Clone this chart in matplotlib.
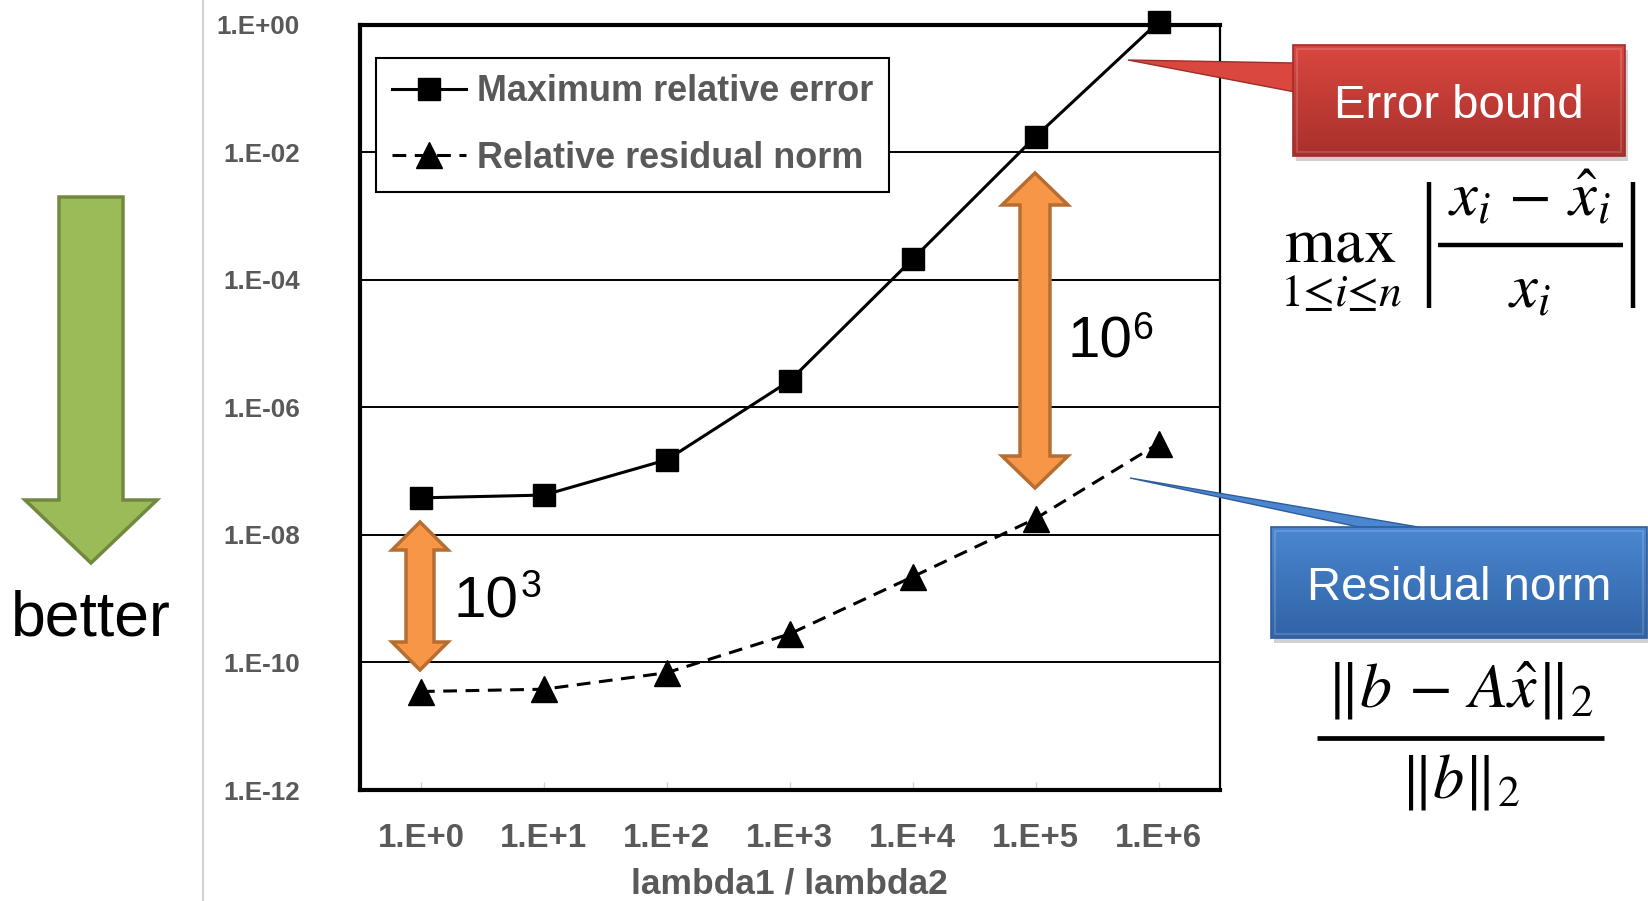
import numpy as np
import matplotlib
matplotlib.use("Agg")
import matplotlib.pyplot as plt
from matplotlib import font_manager
from matplotlib.patches import Polygon, Rectangle

plt.rcParams["font.family"] = ["Liberation Sans", "DejaVu Sans"]

W, H = 1648, 901

ratio_labels = ["1.E+0", "1.E+1", "1.E+2", "1.E+3", "1.E+4", "1.E+5", "1.E+6"]
max_rel_error = [3.8e-8, 4.2e-8, 1.5e-7, 2.6e-6, 2.1e-4, 1.75e-2, 1.1]
rel_residual = [3.5e-11, 3.8e-11, 6.9e-11, 2.8e-10, 2.2e-9, 1.8e-8, 2.7e-7]
y_ticks = [1e0, 1e-2, 1e-4, 1e-6, 1e-8, 1e-10, 1e-12]
y_tick_labels = ["1.E+00", "1.E-02", "1.E-04", "1.E-06", "1.E-08", "1.E-10", "1.E-12"]

GRAY = "#595959"

names = {f.name for f in font_manager.fontManager.ttflist}
if "Liberation Sans Narrow" in names:
    NARROW = ["Liberation Sans Narrow", "DejaVu Sans"]
    k = 1.0
else:
    NARROW = ["Liberation Sans", "DejaVu Sans"]
    k = 0.85

fig = plt.figure(figsize=(W / 100, H / 100), dpi=100)
ax = fig.add_axes([359.5 / W, 1 - 790 / H, (1220 - 359.5) / W, (790 - 24.5) / H])

x = np.arange(len(ratio_labels))
ax.plot(x, max_rel_error, color="black", lw=2.2, marker="s", ms=16.5,
        label="Maximum relative error", clip_on=False, zorder=5)
ax.plot(x, rel_residual, color="black", lw=2.2, ls=(0, (4.5, 2.8)), marker="^", ms=19,
        label="Relative residual norm", clip_on=False, zorder=5)

ax.set_yscale("log")
ax.set_ylim(1e-12, 1e0)
ax.set_xlim(-0.5, len(ratio_labels) - 0.5)
ax.set_yticks(y_ticks)
ax.set_yticklabels(y_tick_labels)
ax.minorticks_off()
ax.set_xticks(x)
ax.set_xticklabels(ratio_labels)
for yv in y_ticks[1:-1]:
    ax.axhline(yv, color="black", lw=1.4, zorder=1)

ax.tick_params(axis="y", length=0, pad=43, labelcolor=GRAY)
ax.tick_params(axis="x", direction="in", length=6, width=1, color="#D0D0D0",
               pad=24, labelcolor=GRAY)
for lab in ax.get_yticklabels():
    lab.set_fontweight("bold")
    lab.set_family(NARROW)
    lab.set_fontsize(22 * k)
for lab in ax.get_xticklabels():
    lab.set_fontweight("bold")
    lab.set_family(NARROW)
    lab.set_fontsize(28 * k)

for side in ["left", "top", "bottom"]:
    ax.spines[side].set_linewidth(3)
ax.spines["right"].set_linewidth(1.6)

ax.set_xlabel("lambda1 / lambda2", fontsize=30 * k, fontweight="bold", color=GRAY,
              family=NARROW, va="center")
ax.xaxis.set_label_coords(0.5, (790 - 884) / (790 - 24.5))

leg = ax.legend(loc="upper left", bbox_to_anchor=(376 / W, 1 - 58 / H),
                bbox_transform=fig.transFigure, borderaxespad=0, fancybox=False,
                framealpha=1, edgecolor="black", handlelength=2.05, handletextpad=0.3,
                labelspacing=0.88, borderpad=0.45,
                prop={"size": 30.5 * k, "weight": "bold", "family": NARROW},
                labelcolor=GRAY)
leg.get_frame().set_linewidth(1.5)

# overlay in pixel coordinates for the slide decorations
ov = fig.add_axes([0, 0, 1, 1], zorder=10)
ov.set_xlim(0, W)
ov.set_ylim(H, 0)
ov.axis("off")
ov.patch.set_alpha(0)

ov.plot([203, 203], [0, H], color="#C8C8C8", lw=1.2)

# green "better" arrow
green = [(59, 197), (123, 197), (123, 500), (157, 500), (91, 563), (25, 500), (59, 500)]
ov.add_patch(Polygon(green, closed=True, fc="#9BBB59", ec="#71893F", lw=2.5))
ov.text(91, 636, "better", fontsize=45, ha="center", va="baseline", color="black")


def double_arrow(cx, y0, y1, sw, hw, hl):
    pts = [(cx, y0), (cx + hw, y0 + hl), (cx + sw, y0 + hl), (cx + sw, y1 - hl),
           (cx + hw, y1 - hl), (cx, y1), (cx - hw, y1 - hl), (cx - sw, y1 - hl),
           (cx - sw, y0 + hl), (cx - hw, y0 + hl)]
    ov.add_patch(Polygon(pts, closed=True, fc="#F79646", ec="#B66D31", lw=2.5, zorder=6))


double_arrow(420, 522, 670, 14, 28, 28)
double_arrow(1035, 173, 488, 15, 33, 32)

ov.text(454, 617, "10", fontsize=42, ha="left", va="baseline")
ov.text(521, 597, "3", fontsize=27, ha="left", va="baseline")
ov.text(1068, 358, "10", fontsize=42, ha="left", va="baseline")
ov.text(1132, 339, "6", fontsize=27, ha="left", va="baseline")


def callout(box, pointer, top_c, bot_c, edge_c, label):
    x0, y0, x1, y1 = box
    ov.add_patch(Rectangle((x0 + 3, y0 + 5), x1 - x0, y1 - y0, fc="#000000", alpha=0.18,
                           ec="none", zorder=7))
    ov.add_patch(Polygon(pointer, closed=True, fc=top_c, ec=edge_c, lw=1, zorder=8))
    grad = np.linspace(0, 1, 64)[:, None, None]
    c0 = np.array(matplotlib.colors.to_rgb(top_c))
    c1 = np.array(matplotlib.colors.to_rgb(bot_c))
    img = c0 * (1 - grad) + c1 * grad
    rect = Rectangle((x0, y0), x1 - x0, y1 - y0, fc="none", ec=edge_c, lw=1.2, zorder=9)
    ov.add_patch(rect)
    im = ov.imshow(img, extent=(x0, x1, y1, y0), aspect="auto", origin="upper", zorder=8.5)
    im.set_clip_path(rect)
    ov.add_patch(Rectangle((x0 + 4, y0 + 4), x1 - x0 - 8, y1 - y0 - 8, fc="none",
                           ec="white", alpha=0.15, lw=1.5, zorder=9))
    ov.text((x0 + x1) / 2, (y0 + y1) / 2 + 5, label, fontsize=34, color="white",
            ha="center", va="center", zorder=10)


callout((1293, 45, 1625, 156), [(1128, 60), (1295, 63), (1295, 92)],
        "#D9473F", "#A9302C", "#9E2E2A", "Error bound")
callout((1271, 527, 1647, 638), [(1130, 478), (1430, 529), (1368, 529)],
        "#4A87D0", "#3163A6", "#2E5D9C", "Residual norm")

ov.set_xlim(0, W)
ov.set_ylim(H, 0)

# error bound formula, built from pieces
mk = dict(ha="center", va="baseline", math_fontfamily="stix")
ov.text(1341, 263, r"$\max_{1{\leq}i{\leq}n}$", fontsize=47, **mk)
ov.plot([1429, 1429], [182, 308], color="black", lw=3.2, solid_capstyle="butt")
ov.plot([1633, 1633], [182, 308], color="black", lw=3.2, solid_capstyle="butt")
ov.plot([1438, 1623], [245, 245], color="black", lw=3.2, solid_capstyle="butt")
ov.text(1529, 216, r"$x_i\,-\,\hat{x}_i$", fontsize=45, **mk)
ov.text(1529, 307, r"$x_i$", fontsize=45, **mk)

# residual norm formula
ov.plot([1317, 1604], [738, 738], color="black", lw=3.4, solid_capstyle="butt")
ov.text(1460, 708, r"$\Vert b\,-\,A\hat{x}\Vert_2$", fontsize=46, **mk)
ov.text(1460, 798, r"$\Vert b\Vert_2$", fontsize=45, **mk)

fig.savefig("out.png", dpi=100)
